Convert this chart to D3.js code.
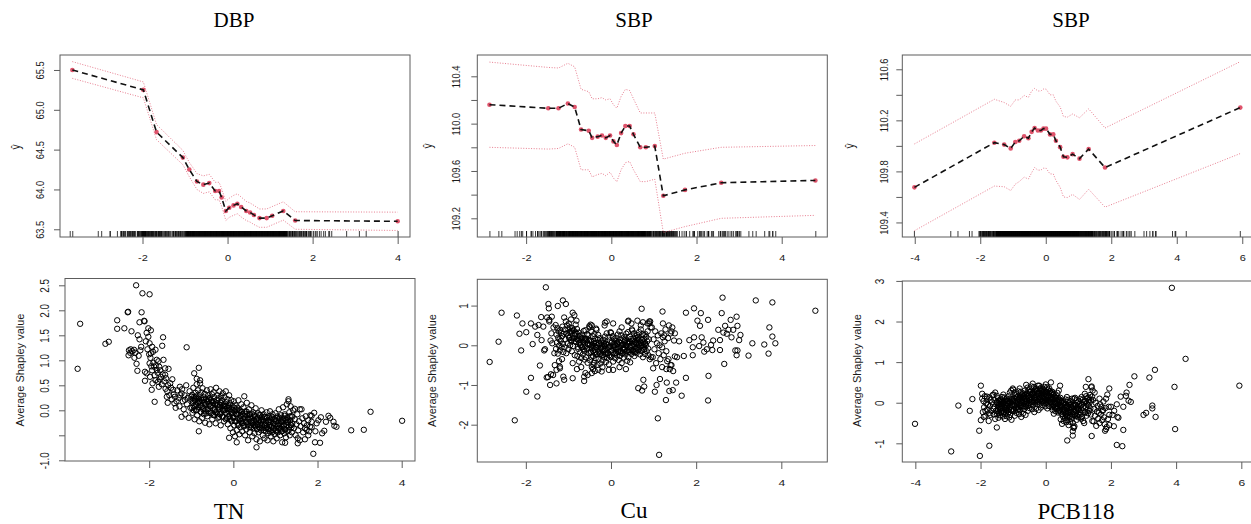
<!DOCTYPE html>
<html><head><meta charset="utf-8">
<script src="https://cdn.jsdelivr.net/npm/d3@7"></script>
<style>
html,body{margin:0;padding:0;background:#fff;}
svg{display:block;}
</style></head>
<body>
<svg id="chart" width="1251" height="524"></svg>
<script>
// ---- Partial dependence curves (top row) ----
const dbpTnX  = [-3.65,-1.98,-1.67,-1.05,-0.90,-0.72,-0.57,-0.43,-0.29,-0.20,-0.14,-0.04,0.04,0.14,0.23,0.32,0.44,0.53,0.62,0.75,0.92,1.05,1.31,1.59,4.00];
const dbpTnY  = [65.50,65.25,64.72,64.40,64.25,64.10,64.06,64.08,63.98,63.98,63.90,63.73,63.77,63.80,63.82,63.78,63.73,63.71,63.68,63.64,63.64,63.67,63.73,63.61,63.60];
const dbpTnSE = [0.105,0.10,0.095,0.09,0.09,0.10,0.11,0.11,0.11,0.11,0.11,0.12,0.12,0.125,0.125,0.125,0.12,0.12,0.12,0.115,0.115,0.115,0.115,0.11,0.115];

const sbpCuX  = [-2.86,-1.48,-1.24,-1.02,-0.86,-0.71,-0.53,-0.45,-0.32,-0.22,-0.13,-0.03,0.05,0.13,0.23,0.33,0.43,0.52,0.68,0.81,1.02,1.22,1.73,2.58,4.79];
const sbpCuY  = [110.16,110.13,110.13,110.17,110.14,109.95,109.94,109.88,109.89,109.90,109.88,109.90,109.85,109.82,109.92,109.98,109.98,109.91,109.80,109.80,109.81,109.39,109.44,109.50,109.52];
const sbpCuSE = [0.36,0.345,0.34,0.34,0.34,0.34,0.33,0.33,0.32,0.32,0.32,0.31,0.31,0.31,0.31,0.31,0.30,0.30,0.29,0.29,0.28,0.31,0.31,0.30,0.295];

const sbpPcbX  = [-4.01,-1.57,-1.27,-1.07,-0.93,-0.81,-0.66,-0.53,-0.43,-0.34,-0.24,-0.15,-0.07,0.01,0.13,0.23,0.31,0.44,0.54,0.66,0.82,1.03,1.31,1.81,5.94];
const sbpPcbY  = [109.675,110.025,110.01,109.98,110.03,110.04,110.075,110.06,110.11,110.14,110.12,110.12,110.135,110.135,110.09,110.09,110.04,109.99,109.915,109.91,109.935,109.90,109.975,109.83,110.30];
const sbpPcbSE = [0.34,0.34,0.33,0.33,0.33,0.32,0.32,0.32,0.32,0.31,0.31,0.31,0.31,0.31,0.31,0.31,0.31,0.315,0.315,0.315,0.315,0.32,0.315,0.31,0.36];

// ---- Average Shapley value per observation (bottom row), [exposure, shapley] ----
const tnShapley = [
[-3.70,0.83],[-3.64,1.73],[-3.04,1.33],[-2.96,1.37],[-2.76,1.80],[-2.76,1.63],[-2.59,1.64],[-2.51,1.96],[-2.50,1.97],[-2.42,1.58],
[-2.31,2.50],[-2.16,2.34],[-1.99,2.32],[-2.18,1.96],[-2.12,1.79],[-2.11,1.78],[-2.23,1.76],[-2.27,1.50],[-2.23,1.42],[-2.19,1.27],
[-2.48,1.20],[-2.44,1.22],[-2.40,1.18],[-2.36,1.21],[-2.33,1.15],[-2.49,1.10],[-2.30,0.93],[-2.28,0.79],[-2.25,1.09],[-2.21,1.20],
[-2.10,0.77],[-2.10,0.59],[-2.06,1.55],[-2.02,1.64],[-2.02,1.47],[-1.99,1.34],[-1.96,1.14],[-1.99,0.94],[-2.06,0.74],[-1.98,0.67],
[-1.92,0.54],[-1.94,0.41],[-1.88,0.87],[-1.85,1.21],[-1.82,1.01],[-1.82,0.81],[-1.79,0.57],[-1.77,0.47],[-1.76,0.87],[-1.72,0.67],
[-1.87,0.17],[-1.66,1.01],[-1.69,1.29],[-1.67,1.46],[-1.62,0.84],[-1.62,0.71],[-1.61,0.43],[-1.58,0.27],[-1.56,0.15],[-1.54,0.83],
[-1.50,0.54],[-1.43,0.41],[-1.39,0.27],[-1.40,0.14],[-1.37,0.05],[-1.27,0.47],[-1.23,0.34],[-1.11,1.26],[-1.15,0.21],[-1.23,-0.13],
[-0.82,-0.42],[-0.82,0.85],[-0.93,0.74],[-0.87,0.63],[-0.79,0.54],[-2.00,1.12],[-1.97,1.05],[-1.95,0.88],[-1.93,0.80],[-1.91,1.17],
[-1.90,0.95],[-1.87,0.70],[-1.85,0.60],[-1.84,0.90],[-1.80,0.75],[-1.78,0.98],[-1.75,0.62],[-1.74,0.80],[-1.70,0.52],[-1.68,0.72],
[-1.64,0.58],[-1.60,0.64],[-1.57,0.38],[-1.55,0.50],[-1.52,0.30],[-1.48,0.45],[-1.46,0.22],[-1.45,0.62],[-1.42,0.32],[-1.35,0.18],
[-1.33,0.40],[-1.30,0.25],[-1.28,0.08],[-1.26,0.30],[-2.08,1.38],[-2.04,1.22],[-1.96,1.60],[-1.93,1.27],[-2.35,1.05],[-2.45,1.15],
[1.86,-0.11],[1.86,-0.23],[1.82,-0.33],[1.74,-0.39],[1.90,-0.87],[1.94,-0.64],[2.06,-0.65],[2.11,-0.46],[2.16,-0.41],[1.98,-0.26],
[2.08,-0.14],[2.26,-0.11],[2.20,-0.23],[2.38,-0.23],[2.40,-0.31],[2.45,-0.33],[2.80,-0.40],[3.10,-0.39],[3.26,-0.03],[4.01,-0.21],
[1.31,0.22],[1.46,0.03],[1.58,0.02],[1.53,-0.56],[1.53,-0.66],[1.23,-0.65],[0.55,-0.74],[0.08,-0.64],[-0.10,-0.55],[1.78,-0.50],
[1.70,-0.58],[2.02,-0.20],[1.95,-0.42],[2.30,-0.15],[1.92,-0.05],
[-1.22,0.42],[-1.20,0.18],[-1.18,0.02],[-1.16,0.30],[-1.14,-0.08],[-1.12,0.50],[-1.10,0.12],[-1.08,0.25],[-1.06,-0.15],[-1.04,0.38],
[-1.02,0.05],[-1.00,0.22],[-0.98,0.31],[-0.97,-0.05],[-0.96,0.15],[-0.95,0.45],[-0.94,0.08],[-0.93,0.27],[-0.92,-0.18],[-0.91,0.20],
[-0.90,0.35],[-0.89,0.00],[-0.88,0.12],[-0.87,0.52],[-0.86,-0.10],[-0.85,0.24],[-0.84,0.40],[-0.83,0.06],[-0.82,0.18],[-0.81,-0.22],
[-0.80,0.30],[-0.79,0.60],[-0.78,0.10],[-0.77,-0.03],[-0.76,0.36],[-0.75,0.20],[-0.74,-0.15],[-0.73,0.44],[-0.72,0.05],[-0.71,0.26],
[-0.70,-0.08],[-0.69,0.15],[-0.68,0.33],[-0.67,-0.25],[-0.66,0.10],[-0.65,0.22],[-0.64,0.02],[-0.63,0.40],[-0.62,-0.12],[-0.61,0.18],
[-0.60,0.30],[-0.59,-0.02],[-0.58,0.12],[-0.57,-0.28],[-0.56,0.25],[-0.55,0.08],[-0.54,0.42],[-0.53,-0.06],[-0.52,0.20],[-0.51,0.32],
[-0.50,-0.18],[-0.49,0.05],[-0.48,0.15],[-0.47,0.36],[-0.46,-0.10],[-0.45,0.26],[-0.44,0.00],[-0.43,0.12],[-0.42,-0.26],[-0.41,0.45],
[-0.40,0.20],[-0.39,-0.04],[-0.38,0.30],[-0.37,0.10],[-0.36,-0.15],[-0.35,0.24],[-0.34,0.02],[-0.33,0.38],[-0.32,-0.08],[-0.31,0.16],
[-0.30,-0.30],[-0.29,0.28],[-0.28,0.06],[-0.27,0.20],[-0.26,-0.12],[-0.25,0.34],[-0.24,0.00],[-0.23,0.12],[-0.22,-0.22],[-0.21,0.26],
[-0.20,0.08],[-0.19,-0.05],[-0.18,0.38],[-0.17,0.16],[-0.16,-0.16],[-0.15,0.04],[-0.14,0.22],[-0.13,-0.28],[-0.12,0.10],[-0.11,-0.02],
[-0.10,0.30],[-0.09,-0.12],[-0.08,0.14],[-0.07,-0.36],[-0.06,0.02],[-0.05,0.20],[-0.04,-0.20],[-0.03,-0.06],[-0.02,0.08],[-0.01,-0.44],
[0.00,-0.14],[0.01,0.18],[0.02,-0.30],[0.03,-0.02],[0.04,-0.52],[0.05,0.10],[0.06,-0.22],[0.07,-0.08],[0.08,-0.40],[0.09,0.05],
[0.10,-0.16],[0.11,-0.30],[0.12,0.20],[0.13,-0.05],[0.14,-0.48],[0.15,-0.20],[0.16,0.00],[0.17,-0.34],[0.18,-0.12],[0.19,0.12],
[0.20,-0.26],[0.21,-0.42],[0.22,-0.08],[0.23,-0.18],[0.24,0.06],[0.25,-0.32],[0.26,0.28],[0.27,-0.14],[0.28,-0.50],[0.29,-0.02],
[0.30,-0.24],[0.31,-0.38],[0.32,0.15],[0.33,-0.10],[0.34,-0.28],[0.35,-0.60],[0.36,-0.18],[0.37,0.02],[0.38,-0.34],[0.39,-0.44],
[0.40,-0.08],[0.41,-0.22],[0.42,-0.30],[0.43,0.10],[0.44,-0.16],[0.45,-0.52],[0.46,-0.26],[0.47,-0.04],[0.48,-0.36],[0.49,-0.20],
[0.50,-0.46],[0.51,-0.12],[0.52,-0.30],[0.53,0.04],[0.54,-0.24],[0.55,-0.58],[0.56,-0.38],[0.57,-0.16],[0.58,-0.28],[0.59,-0.06],
[0.60,-0.44],[0.61,-0.20],[0.62,-0.34],[0.63,-0.62],[0.64,-0.10],[0.65,-0.26],[0.66,-0.40],[0.67,0.00],[0.68,-0.30],[0.69,-0.18],
[0.70,-0.50],[0.71,-0.36],[0.72,-0.08],[0.73,-0.22],[0.74,-0.56],[0.75,-0.30],[0.76,-0.14],[0.77,-0.42],[0.78,-0.26],[0.79,-0.04],
[0.80,-0.34],[0.81,-0.60],[0.82,-0.20],[0.83,-0.46],[0.84,-0.12],[0.85,-0.30],[0.86,-0.38],[0.87,-0.02],[0.88,-0.24],[0.89,-0.52],
[0.90,-0.16],[0.91,-0.32],[0.92,-0.44],[0.93,-0.08],[0.94,-0.26],[0.95,-0.62],[0.96,-0.36],[0.97,-0.18],[0.98,-0.48],[0.99,-0.28],
[1.00,-0.06],[1.01,-0.40],[1.02,-0.22],[1.03,-0.56],[1.04,-0.32],[1.05,-0.12],[1.06,-0.44],[1.07,-0.26],[1.08,0.02],[1.09,-0.36],
[1.10,-0.18],[1.11,-0.50],[1.12,-0.30],[1.13,-0.10],[1.14,-0.42],[1.15,-0.22],[1.16,-0.64],[1.17,-0.34],[1.18,0.06],[1.19,-0.16],
[1.20,-0.28],[1.21,-0.46],[1.22,-0.08],[1.23,-0.38],[1.24,-0.20],[1.25,-0.54],[1.26,-0.30],[1.27,0.12],[1.28,-0.14],[1.29,-0.42],
[1.30,-0.24],[1.31,0.18],[1.32,-0.34],[1.33,-0.04],[1.34,-0.50],[1.35,-0.20],[1.36,0.08],[1.37,-0.30],[1.38,-0.12],[1.39,-0.44],
[1.40,-0.26],[1.42,0.00],[1.44,-0.36],[1.46,-0.18],[1.48,-0.50],[1.50,-0.28],[1.52,-0.08],[1.54,-0.40],[1.56,-0.22],[1.58,-0.60],
[1.60,-0.32],[1.62,0.02],[1.64,-0.16],[1.66,-0.44],[1.68,-0.26],[1.70,-0.36],[1.72,-0.12],[1.75,-0.30],[1.78,-0.20],[1.80,-0.42],
[1.83,-0.10],[1.86,-0.34]
];
// densest band of TN observations
const tnShapleyCore = [
[-1.00,0.27],[-0.98,0.05],[-0.96,0.19],[-0.94,0.00],[-0.92,0.23],[-0.90,0.08],[-0.88,0.28],[-0.86,0.01],[-0.84,0.15],[-0.82,0.23],
[-0.80,0.17],[-0.78,-0.03],[-0.76,0.24],[-0.74,0.08],[-0.72,0.02],[-0.70,0.21],[-0.68,-0.01],[-0.66,0.13],[-0.64,-0.06],[-0.62,0.17],
[-0.60,0.02],[-0.58,0.22],[-0.56,-0.05],[-0.54,0.09],[-0.52,0.17],[-0.50,0.11],[-0.48,-0.09],[-0.46,0.18],[-0.44,0.02],[-0.42,-0.04],
[-0.40,0.14],[-0.38,-0.08],[-0.36,0.06],[-0.34,-0.13],[-0.32,0.10],[-0.30,-0.06],[-0.28,0.14],[-0.26,-0.13],[-0.24,0.01],[-0.22,0.09],
[-0.20,0.02],[-0.18,-0.18],[-0.16,0.09],[-0.14,-0.07],[-0.12,-0.13],[-0.10,0.05],[-0.08,-0.17],[-0.06,-0.03],[-0.04,-0.22],[-0.02,0.01],
[0.00,-0.15],[0.02,0.05],[0.04,-0.22],[0.06,-0.08],[0.08,0.00],[0.10,-0.07],[0.12,-0.27],[0.14,0.00],[0.16,-0.16],[0.18,-0.22],
[0.20,-0.03],[0.22,-0.25],[0.24,-0.11],[0.26,-0.30],[0.28,-0.07],[0.30,-0.23],[0.32,-0.03],[0.34,-0.30],[0.36,-0.16],[0.38,-0.08],
[0.40,-0.14],[0.42,-0.34],[0.44,-0.07],[0.46,-0.23],[0.48,-0.29],[0.50,-0.10],[0.52,-0.32],[0.54,-0.18],[0.56,-0.37],[0.58,-0.14],
[0.60,-0.29],[0.62,-0.09],[0.64,-0.36],[0.66,-0.22],[0.68,-0.14],[0.70,-0.20],[0.72,-0.40],[0.74,-0.13],[0.76,-0.29],[0.78,-0.35],
[0.80,-0.15],[0.82,-0.37],[0.84,-0.23],[0.86,-0.42],[0.88,-0.19],[0.90,-0.33],[0.92,-0.13],[0.94,-0.40],[0.96,-0.26],[0.98,-0.18],
[1.00,-0.22],[1.02,-0.42],[1.04,-0.15],[1.06,-0.31],[1.08,-0.37],[1.10,-0.15],[1.12,-0.37],[1.14,-0.23],[1.16,-0.42],[1.18,-0.19],
[1.20,-0.31],[1.22,-0.11],[1.24,-0.38],[1.26,-0.24],[1.28,-0.16],[1.30,-0.19],[1.32,-0.39],[1.34,-0.12],[1.36,-0.28],[1.38,-0.34],
[1.40,-0.13]
];

const cuShapley = [
[-2.85,-0.42],[-2.64,0.09],[-2.57,0.82],[-2.26,-1.89],[-2.21,0.75],[-2.15,0.29],[-2.11,-0.13],[-2.08,0.55],[-1.99,-1.17],[-1.99,0.33],
[-1.88,-0.82],[-1.88,0.55],[-1.84,0.03],[-1.78,0.47],[-1.73,-1.29],[-1.73,0.26],[-1.70,0.51],[-1.67,-0.51],[-1.64,0.71],[-1.63,0.13],
[-1.59,0.47],[-1.57,-0.13],[-1.53,1.46],[-1.51,-0.81],[-1.47,1.04],[-1.46,0.93],[-1.43,-1.00],[-1.45,0.64],[-1.41,-0.73],[-1.39,0.72],
[-1.28,-0.96],[-1.25,0.99],[-1.20,-0.54],[-1.13,1.13],[-1.06,1.04],[-1.12,-0.79],[-1.10,-0.87],[-0.90,-0.83],[-0.63,-0.79],[-0.63,-0.90],
[-0.41,-0.50],[-0.22,-0.66],[0.05,-0.62],[-0.10,0.60],[-0.14,0.57],[0.41,0.62],[0.72,0.92],[0.64,-1.08],[0.73,-1.14],[0.76,-0.87],
[0.78,-1.04],[0.99,-0.58],[1.03,-1.17],[1.07,-1.00],[1.10,-1.84],[1.13,-2.76],[1.21,0.85],[1.29,-1.38],[1.31,-0.94],[1.37,-1.15],
[1.45,-1.13],[1.53,-0.94],[1.66,-1.27],[1.76,-0.82],[1.76,0.82],[1.71,-0.27],[1.84,0.13],[1.95,0.93],[1.95,0.20],[1.92,-0.25],
[1.92,-0.05],[2.03,0.62],[2.07,-0.02],[2.09,0.49],[2.11,0.81],[2.13,0.20],[2.17,0.07],[2.19,-0.16],[2.25,-0.10],[2.28,0.64],
[2.29,-0.77],[2.28,-1.39],[2.35,0.01],[2.38,-0.12],[2.40,0.12],[2.52,0.39],[2.56,0.13],[2.56,-0.12],[2.60,0.81],[2.62,1.20],
[2.64,0.32],[2.66,-0.47],[2.68,0.49],[2.72,0.29],[2.76,0.39],[2.81,0.64],[2.83,0.20],[2.87,0.39],[2.92,-0.13],[2.95,-0.25],
[2.97,-0.13],[2.95,0.72],[2.97,0.49],[3.01,0.13],[3.04,0.26],[3.23,-0.26],[3.32,0.05],[3.40,1.13],[3.60,0.02],[3.70,-0.21],
[3.72,0.45],[3.79,1.08],[3.79,0.22],[3.86,0.05],[4.80,0.87],
[1.60,0.10],[1.55,-0.30],[1.50,0.30],[1.42,0.35],[1.40,-0.50],[1.30,-0.60],[1.20,-0.55],[1.15,-0.85],[1.25,0.25],[1.35,-0.35],
[0.62,0.62],[0.75,0.58],[0.86,0.55],[0.90,0.60],[0.48,0.55],[0.70,0.50],[1.22,0.55],
[-1.45,0.60],[-1.40,0.30],[-1.38,0.05],[-1.35,0.45],[-1.33,-0.20],[-1.42,0.12],[-1.50,0.70],[-1.55,-0.10],[-1.48,-0.80],[-1.36,-0.75],
[-1.32,-0.50],[-1.28,-0.62],[-1.20,-0.58],[-1.22,-0.40],[-1.15,-0.35],[-0.90,-0.45],[-0.80,-0.60],[-0.70,-0.55],[-0.60,-0.70],[-0.55,-0.75],
[-0.45,-0.70],[-0.30,-0.62],[-0.20,-0.55],[-0.05,-0.62],[0.20,-0.55],[0.35,-0.60],[0.40,0.60],[0.05,0.55],[-0.15,0.50],[0.25,0.45],
[-1.30,0.51],[-1.29,-0.09],[-1.28,0.27],[-1.27,0.07],[-1.26,0.43],[-1.25,-0.21],[-1.24,0.19],[-1.23,0.35],[-1.22,-0.01],[-1.21,0.15],
[-1.20,-0.13],[-1.19,0.39],[-1.18,0.11],[-1.17,0.31],[-1.16,-0.05],[-1.15,0.23],[-1.14,0.47],[-1.13,0.03],[-1.12,-0.17],[-1.11,0.29],
[-1.10,0.70],[-1.09,-0.05],[-1.08,0.40],[-1.07,0.15],[-1.06,0.60],[-1.05,-0.20],[-1.04,0.30],[-1.03,0.50],[-1.02,0.05],[-1.01,0.25],
[-1.00,-0.10],[-0.99,0.55],[-0.98,0.20],[-0.97,0.45],[-0.96,0.00],[-0.95,0.35],[-0.94,0.65],[-0.93,0.10],[-0.92,-0.15],[-0.91,0.43],
[-0.90,0.82],[-0.89,-0.02],[-0.88,0.38],[-0.87,0.18],[-0.86,0.76],[-0.85,-0.25],[-0.84,0.28],[-0.83,0.52],[-0.82,0.08],[-0.81,0.62],
[-0.80,0.41],[-0.79,-0.27],[-0.78,0.14],[-0.77,-0.09],[-0.76,0.32],[-0.75,-0.41],[-0.74,0.05],[-0.73,0.23],[-0.72,-0.18],[-0.71,0.00],
[-0.70,-0.32],[-0.69,0.27],[-0.68,-0.05],[-0.67,0.18],[-0.66,-0.23],[-0.65,0.09],[-0.64,0.36],[-0.63,-0.14],[-0.62,-0.36],[-0.61,0.16],
[-0.60,0.38],[-0.59,-0.30],[-0.58,0.12],[-0.57,-0.06],[-0.56,0.28],[-0.55,-0.44],[-0.54,0.02],[-0.53,0.25],[-0.52,-0.20],[-0.51,0.48],
[-0.50,0.45],[-0.49,-0.38],[-0.48,0.12],[-0.47,-0.16],[-0.46,0.34],[-0.45,-0.55],[-0.44,0.01],[-0.43,0.23],[-0.42,-0.27],[-0.41,-0.05],
[-0.40,-0.44],[-0.39,0.28],[-0.38,-0.11],[-0.37,0.17],[-0.36,-0.33],[-0.35,0.06],[-0.34,0.39],[-0.33,-0.22],[-0.32,-0.49],[-0.31,0.14],
[-0.48,0.52],[-0.45,0.50],[-0.42,-0.60],[-0.38,-0.65],[-0.35,0.42],[-0.46,-0.30],[-0.40,0.10],[-0.36,-0.05],
[-0.30,0.26],[-0.29,-0.34],[-0.28,0.02],[-0.27,-0.18],[-0.26,0.18],[-0.25,-0.46],[-0.24,-0.06],[-0.23,0.10],[-0.22,-0.26],[-0.21,-0.10],
[-0.20,-0.38],[-0.19,0.14],[-0.18,-0.14],[-0.17,0.06],[-0.16,-0.30],[-0.15,-0.02],[-0.14,0.22],[-0.13,-0.22],[-0.12,-0.42],[-0.11,0.04],
[-0.10,0.30],[-0.09,-0.32],[-0.08,0.00],[-0.07,-0.20],[-0.06,0.20],[-0.05,-0.48],[-0.04,-0.04],[-0.03,0.12],[-0.02,-0.28],[-0.01,0.33],
[0.00,0.31],[0.01,-0.29],[0.02,0.07],[0.03,-0.13],[0.04,0.23],[0.05,-0.41],[0.06,-0.01],[0.07,0.15],[0.08,-0.21],[0.09,-0.05],
[0.10,-0.33],[0.11,0.19],[0.12,-0.09],[0.13,0.11],[0.14,-0.25],[0.15,0.03],[0.16,0.27],[0.17,-0.17],[0.18,-0.37],[0.19,0.09],
[0.20,0.35],[0.21,-0.27],[0.22,0.05],[0.23,-0.15],[0.24,0.25],[0.25,-0.45],[0.26,0.01],[0.27,0.17],[0.28,-0.19],[0.29,-0.07],
[0.30,-0.31],[0.31,0.21],[0.32,-0.11],[0.33,0.13],[0.34,-0.23],[0.35,0.00],[0.36,0.29],[0.37,-0.15],[0.38,-0.39],[0.39,0.08],
[0.40,0.33],[0.41,-0.30],[0.42,0.08],[0.43,-0.12],[0.44,0.22],[0.45,-0.43],[0.46,-0.02],[0.47,0.16],[0.48,-0.22],[0.49,0.40],
[0.50,0.37],[0.51,-0.16],[0.52,0.16],[0.53,-0.02],[0.54,0.30],[0.55,-0.27],[0.56,0.09],[0.57,0.23],[0.58,-0.09],[0.59,0.05],
[0.60,-0.20],[0.61,0.26],[0.62,0.02],[0.63,0.19],[0.64,-0.13],[0.65,0.12],[0.66,0.33],[0.67,-0.06],[0.68,-0.23],[0.69,0.17],
[0.70,0.40],[0.71,-0.14],[0.72,0.14],[0.73,0.00],[0.74,0.28],[0.75,-0.30],[0.76,0.07],[0.77,0.25],[0.78,-0.11],[0.79,0.03],
[0.80,-0.22],[0.81,0.28],[0.82,0.00],[0.83,0.21],[0.84,-0.15],[0.85,0.10],[0.86,0.35],[0.87,-0.08],[0.88,-0.25],[0.89,0.15],
[0.90,0.55],[0.91,-0.35],[0.92,0.60],[0.93,0.45],[0.94,-0.30],
[0.96,0.45],[0.98,-0.30],[1.00,0.15],[1.02,-0.10],[1.04,0.35],[1.06,-0.45],[1.08,0.05],[1.10,0.25],[1.12,-0.20],[1.14,0.00],
[1.16,-0.35],[1.18,0.30],[1.20,-0.05],[1.22,0.20],[1.24,-0.25],[1.26,0.10],[1.28,0.40],[1.30,-0.15],[1.32,-0.40],[1.34,0.18],
[1.36,0.50],[1.38,-0.60],[1.40,0.30],[1.42,-0.50],[1.44,0.45],[1.46,-0.65],[1.48,0.12],[1.50,-0.28]
];
// densest band of Cu observations
const cuShapleyCore = [
[-1.00,0.40],[-0.98,0.18],[-0.96,0.32],[-0.94,0.13],[-0.92,0.36],[-0.90,0.17],[-0.88,0.37],[-0.86,0.10],[-0.84,0.24],[-0.82,0.32],
[-0.80,0.16],[-0.78,-0.04],[-0.76,0.23],[-0.74,0.07],[-0.72,0.01],[-0.70,0.17],[-0.68,-0.05],[-0.66,0.09],[-0.64,-0.10],[-0.62,0.13],
[-0.60,-0.03],[-0.58,0.17],[-0.56,-0.10],[-0.54,0.04],[-0.52,0.12],[-0.50,0.01],[-0.48,-0.19],[-0.46,0.08],[-0.44,-0.08],[-0.42,-0.14],
[-0.40,0.04],[-0.38,-0.18],[-0.36,-0.04],[-0.34,-0.23],[-0.32,0.00],[-0.30,-0.15],[-0.28,0.05],[-0.26,-0.22],[-0.24,-0.08],[-0.22,0.00],
[-0.20,-0.04],[-0.18,-0.24],[-0.16,0.03],[-0.14,-0.13],[-0.12,-0.19],[-0.10,0.02],[-0.08,-0.20],[-0.06,-0.06],[-0.04,-0.25],[-0.02,-0.02],
[0.00,-0.13],[0.02,0.07],[0.04,-0.20],[0.06,-0.06],[0.08,0.02],[0.10,0.00],[0.12,-0.20],[0.14,0.07],[0.16,-0.09],[0.18,-0.15],
[0.20,0.07],[0.22,-0.15],[0.24,-0.01],[0.26,-0.20],[0.28,0.03],[0.30,-0.09],[0.32,0.11],[0.34,-0.16],[0.36,-0.02],[0.38,0.06],
[0.40,0.03],[0.42,-0.17],[0.44,0.10],[0.46,-0.06],[0.48,-0.12],[0.50,0.10],[0.52,-0.12],[0.54,0.02],[0.56,-0.17],[0.58,0.06],
[0.60,-0.05],[0.62,0.15],[0.64,-0.12],[0.66,0.02],[0.68,0.10],[0.70,0.06],[0.72,-0.14],[0.74,0.13],[0.76,-0.03],[0.78,-0.09],
[0.80,0.05]
];

const pcbShapley = [
[-4.01,-0.52],[-2.90,-1.20],[-2.68,-0.07],[-2.33,-0.20],[-2.25,0.09],[-2.04,-0.69],[-2.02,-1.31],[-1.99,0.42],[-1.99,-0.43],[-1.73,-1.06],
[-1.50,-0.61],[0.66,-0.93],[0.83,-0.81],[0.83,-0.70],[1.31,0.58],[1.23,0.39],[1.41,-0.82],[1.82,-0.69],[1.95,0.35],[2.09,-0.58],
[2.18,-1.04],[2.18,-0.04],[2.23,-0.37],[2.35,-1.07],[2.38,-0.67],[2.30,0.15],[2.38,-0.10],[2.46,0.17],[2.48,0.25],[2.54,0.05],
[2.57,0.44],[2.61,0.02],[2.72,0.65],[3.00,-0.30],[3.08,-0.25],[3.18,0.62],[3.27,-0.07],[3.27,-0.14],[3.35,0.81],[3.37,-0.35],
[3.87,2.83],[3.95,0.39],[3.97,-0.65],[4.29,1.08],[5.94,0.42],
[-1.90,-0.35],[-1.85,-0.20],[-1.80,0.15],[-1.75,-0.45],[-1.70,-0.30],[-1.60,0.20],[-1.55,-0.40],[-1.95,0.10],[-1.60,-0.15],
[1.50,0.25],[1.65,0.10],[2.00,-0.10],[2.05,-0.30],[2.10,-0.20],[2.20,-0.35],[1.85,0.10],[1.75,-0.20],[1.95,-0.55],
[-1.95,0.22],[-1.93,-0.23],[-1.91,0.04],[-1.89,-0.11],[-1.87,0.16],[-1.85,-0.32],[-1.83,-0.02],[-1.81,0.10],[-1.79,-0.17],[-1.77,-0.05],
[-1.75,-0.26],[-1.73,0.13],[-1.71,-0.08],[-1.69,0.07],[-1.67,-0.20],[-1.65,0.01],[-1.63,0.19],[-1.61,-0.14],[-1.59,-0.29],[-1.57,0.06],
[-1.55,0.25],[-1.53,-0.20],[-1.51,0.00],
[-1.50,0.17],[-1.49,-0.28],[-1.48,-0.01],[-1.47,-0.16],[-1.46,0.11],[-1.45,-0.37],[-1.44,-0.07],[-1.43,0.05],[-1.42,-0.22],[-1.41,-0.10],
[-1.40,-0.31],[-1.39,0.08],[-1.38,-0.13],[-1.37,0.02],[-1.36,-0.25],[-1.35,-0.04],[-1.34,0.14],[-1.33,-0.19],[-1.32,-0.34],[-1.31,0.01],
[-1.30,0.20],[-1.29,-0.26],[-1.28,0.02],[-1.27,-0.14],[-1.26,0.13],[-1.25,-0.40],[-1.24,-0.05],[-1.23,0.07],[-1.22,-0.24],[-1.21,-0.08],
[-1.20,-0.33],[-1.19,0.10],[-1.18,-0.12],[-1.17,0.04],[-1.16,-0.27],[-1.15,-0.02],[-1.14,0.16],[-1.13,-0.17],[-1.12,-0.36],[-1.11,0.03],
[-1.10,0.25],[-1.09,-0.30],[-1.08,0.00],[-1.07,-0.18],[-1.06,0.30],[-1.05,-0.42],[-1.04,-0.06],[-1.03,0.09],[-1.02,-0.20],[-1.01,0.35],
[-1.00,0.32],[-0.99,-0.21],[-0.98,0.11],[-0.97,-0.07],[-0.96,0.25],[-0.95,-0.32],[-0.94,0.04],[-0.93,0.18],[-0.92,-0.14],[-0.91,0.00],
[-0.90,-0.25],[-0.89,0.21],[-0.88,-0.04],[-0.87,0.14],[-0.86,-0.18],[-0.85,0.07],[-0.84,0.28],[-0.83,-0.11],[-0.82,-0.28],[-0.81,0.12],
[-0.80,0.35],[-0.79,-0.19],[-0.78,0.13],[-0.77,-0.05],[-0.76,0.27],[-0.75,-0.35],[-0.74,0.02],[-0.73,0.20],[-0.72,-0.12],[-0.71,0.03],
[-0.70,-0.27],[-0.69,0.23],[-0.68,-0.02],[-0.67,0.16],[-0.66,-0.16],[-0.65,0.09],[-0.64,0.30],[-0.63,-0.09],[-0.62,-0.30],[-0.61,0.10],
[-0.60,0.44],[-0.59,-0.09],[-0.58,0.23],[-0.57,0.05],[-0.56,0.37],[-0.55,-0.20],[-0.54,0.16],[-0.53,0.30],[-0.52,-0.02],[-0.51,0.12],
[-0.50,-0.13],[-0.49,0.33],[-0.48,0.08],[-0.47,0.26],[-0.46,-0.06],[-0.45,0.19],[-0.44,0.40],[-0.43,0.02],[-0.42,-0.16],[-0.41,0.24],
[-0.40,0.47],[-0.39,-0.07],[-0.38,0.25],[-0.37,0.07],[-0.36,0.39],[-0.35,-0.23],[-0.34,0.14],[-0.33,0.32],[-0.32,0.00],[-0.31,0.10],
[-0.30,-0.15],[-0.29,0.35],[-0.28,0.06],[-0.27,0.28],[-0.26,-0.04],[-0.25,0.21],[-0.24,0.42],[-0.23,0.04],[-0.22,-0.18],[-0.21,0.22],
[-0.20,0.42],[-0.19,-0.03],[-0.18,0.24],[-0.17,0.09],[-0.16,0.36],[-0.15,-0.12],[-0.14,0.18],[-0.13,0.30],[-0.12,0.03],[-0.11,0.15],
[-0.10,-0.06],[-0.09,0.33],[-0.08,0.12],[-0.07,0.27],[-0.06,0.00],[-0.05,0.21],[-0.04,0.39],[-0.03,0.06],[-0.02,-0.09],[-0.01,0.26],
[0.00,0.45],[0.01,-0.01],[0.02,0.26],[0.03,0.11],[0.04,0.38],[0.05,-0.14],[0.06,0.16],[0.07,0.32],[0.08,0.05],[0.09,0.13],
[0.10,-0.08],[0.11,0.35],[0.12,0.10],[0.13,0.29],[0.14,0.02],[0.15,0.23],[0.16,0.50],[0.17,0.08],[0.18,-0.11],[0.19,0.24],
[0.20,0.27],[0.21,-0.18],[0.22,0.09],[0.23,-0.06],[0.24,0.21],[0.25,-0.27],[0.26,0.03],[0.27,0.15],[0.28,-0.12],[0.29,0.00],
[0.30,-0.21],[0.31,0.18],[0.32,-0.03],[0.33,0.12],[0.34,-0.15],[0.35,0.06],[0.36,0.24],[0.37,-0.09],[0.38,-0.24],[0.39,0.11],
[0.40,0.30],[0.41,-0.20],[0.42,0.05],[0.43,-0.10],[0.44,0.42],
[0.45,0.12],[0.46,-0.41],[0.47,-0.10],[0.48,-0.27],[0.49,0.05],[0.50,-0.52],[0.51,-0.17],[0.52,-0.03],[0.53,-0.34],[0.54,-0.20],
[0.55,-0.45],[0.56,0.01],[0.57,-0.24],[0.58,-0.06],[0.59,-0.38],[0.60,-0.13],[0.61,0.08],[0.62,-0.31],[0.63,-0.48],[0.64,-0.08],
[0.65,0.14],[0.66,-0.43],[0.67,-0.08],[0.68,-0.25],[0.69,0.07],[0.70,-0.55],[0.71,-0.15],[0.72,-0.01],[0.73,-0.36],[0.74,-0.18],
[0.75,-0.47],[0.76,0.03],[0.77,-0.22],[0.78,-0.04],[0.79,-0.40],[0.80,-0.11],[0.81,0.10],[0.82,-0.29],[0.83,-0.50],[0.84,-0.06],
[0.85,-0.60],[0.86,-0.62],[0.87,0.10],[0.88,-0.58],[0.89,-0.30],
[0.90,0.12],[0.91,-0.33],[0.92,-0.06],[0.93,-0.21],[0.94,0.06],[0.95,-0.42],[0.96,-0.12],[0.97,0.00],[0.98,-0.27],[0.99,-0.15],
[1.00,-0.36],[1.01,0.03],[1.02,-0.18],[1.03,-0.03],[1.04,-0.30],[1.05,-0.09],[1.06,0.09],[1.07,-0.24],[1.08,-0.39],[1.09,-0.05],
[1.10,0.14],[1.11,-0.35],[1.12,-0.04],[1.13,-0.19],[1.14,0.08],[1.15,-0.45],[1.16,-0.10],[1.17,0.02],[1.18,-0.50],[1.19,-0.25],
[1.20,0.22],[1.21,-0.23],[1.22,0.04],[1.23,-0.11],[1.24,0.16],[1.25,-0.32],[1.26,-0.02],[1.27,0.10],[1.28,-0.17],[1.29,-0.05],
[1.30,-0.26],[1.31,0.13],[1.32,-0.08],[1.33,0.07],[1.34,-0.20],[1.35,0.01],[1.36,0.19],[1.37,-0.14],[1.38,-0.29],[1.39,0.06],
[1.40,0.38],[1.41,0.40],[1.42,0.15],[1.43,-0.45],[1.44,0.30],
[1.45,0.07],[1.47,-0.46],[1.49,-0.15],[1.51,-0.32],[1.53,0.00],[1.55,-0.57],[1.57,-0.22],[1.59,-0.08],[1.61,-0.39],[1.63,-0.25],
[1.65,-0.50],[1.67,-0.04],[1.69,-0.29],[1.71,-0.11],[1.73,-0.43],[1.75,-0.18],[1.77,0.03],[1.79,-0.36],[1.81,-0.53],[1.83,-0.13],
[1.85,-0.65],[1.87,-0.60],[1.89,0.20],[1.91,-0.40],[1.93,-0.10],[1.95,-0.30]
];
// densest band of PCB118 observations
const pcbShapleyCore = [
[-1.50,0.02],[-1.48,-0.20],[-1.46,-0.06],[-1.44,-0.25],[-1.42,-0.02],[-1.40,-0.15],[-1.38,0.05],[-1.36,-0.22],[-1.34,-0.08],[-1.32,0.00],
[-1.30,-0.03],[-1.28,-0.23],[-1.26,0.04],[-1.24,-0.12],[-1.22,-0.18],[-1.20,0.04],[-1.18,-0.18],[-1.16,-0.04],[-1.14,-0.23],[-1.12,0.00],
[-1.10,-0.11],[-1.08,0.09],[-1.06,-0.18],[-1.04,-0.04],[-1.02,0.04],[-1.00,0.03],[-0.98,-0.17],[-0.96,0.10],[-0.94,-0.06],[-0.92,-0.12],
[-0.90,0.12],[-0.88,-0.10],[-0.86,0.04],[-0.84,-0.15],[-0.82,0.08],[-0.80,-0.02],[-0.78,0.18],[-0.76,-0.09],[-0.74,0.05],[-0.72,0.13],
[-0.70,0.12],[-0.68,-0.08],[-0.66,0.19],[-0.64,0.03],[-0.62,-0.03],[-0.60,0.21],[-0.58,-0.01],[-0.56,0.13],[-0.54,-0.06],[-0.52,0.17],
[-0.50,0.07],[-0.48,0.27],[-0.46,0.00],[-0.44,0.14],[-0.42,0.22],[-0.40,0.21],[-0.38,0.01],[-0.36,0.28],[-0.34,0.12],[-0.32,0.06],
[-0.30,0.29],[-0.28,0.07],[-0.26,0.21],[-0.24,0.02],[-0.22,0.25],[-0.20,0.13],[-0.18,0.33],[-0.16,0.06],[-0.14,0.20],[-0.12,0.28],
[-0.10,0.24],[-0.08,0.04],[-0.06,0.31],[-0.04,0.15],[-0.02,0.09],[0.00,0.28],[0.02,0.06],[0.04,0.20],[0.06,0.01],[0.08,0.24],
[0.10,0.07],[0.12,0.27],[0.14,0.00],[0.16,0.14],[0.18,0.22],[0.20,0.12],[0.22,-0.08],[0.24,0.19],[0.26,0.03],[0.28,-0.03],
[0.30,0.12],[0.32,-0.10],[0.34,0.04],[0.36,-0.15],[0.38,0.08],[0.40,-0.12],[0.42,0.08],[0.44,-0.19],[0.46,-0.05],[0.48,0.03],
[0.50,-0.08],[0.52,-0.28],[0.54,-0.01],[0.56,-0.17],[0.58,-0.23],[0.60,-0.06],[0.62,-0.28],[0.64,-0.14],[0.66,-0.33],[0.68,-0.10],
[0.70,-0.25],[0.72,-0.05],[0.74,-0.32],[0.76,-0.18],[0.78,-0.10],[0.80,-0.14],[0.82,-0.34],[0.84,-0.07],[0.86,-0.23],[0.88,-0.29],
[0.90,-0.05],[0.92,-0.27],[0.94,-0.13],[0.96,-0.32],[0.98,-0.09],[1.00,-0.15]
];

// ---- Tick values ----
const xTicksShort = [-2, 0, 2, 4];
const xTicksLong  = [-4, -2, 0, 2, 4, 6];
const dbpTicks    = [63.5, 64, 64.5, 65, 65.5];
const sbpCuTicks  = [109.2, 109.4, 109.6, 109.8, 110, 110.2, 110.4];
const sbpCuShown  = [109.2, 109.6, 110, 110.4];
const sbpPcbTicks = [109.4, 109.6, 109.8, 110, 110.2, 110.4, 110.6];
const sbpPcbShown = [109.4, 109.8, 110.2, 110.6];
const tnShapTicks = [-1, -0.5, 0, 0.5, 1, 1.5, 2, 2.5];
const tnShapShown = [-1, 0, 0.5, 1, 1.5, 2, 2.5];
const cuShapTicks = [-2, -1, 0, 1];
const pcbShapTicks = [-1, 0, 1, 2, 3];

// ---- drawing ----
const svg = d3.select("#chart");
const SANS = "'Liberation Sans', Arial, Helvetica, sans-serif";
const SERIF = "'Liberation Serif', 'Times New Roman', serif";
const RED = "#DF536B";
const FRAME = "#5c5c5c";
const INK = "#1a1a1a";

function placeText(parent, str, x, y, o) {
  return parent.append("text")
    .attr("transform", `translate(${x},${y}) scale(${o.sx ?? 1},${o.sy ?? 1})` + (o.rot ? ` rotate(${o.rot})` : ""))
    .attr("text-anchor", "middle")
    .attr("dy", o.dy ?? "0.35em")
    .attr("font-family", o.family ?? SANS)
    .attr("font-size", o.size ?? 11)
    .attr("fill", o.fill ?? INK)
    .text(str);
}

function has(list, v) { return list.some(t => Math.abs(t - v) < 1e-9); }

function styleAxis(g, o) {
  g.select(".domain").remove();
  g.attr("font-family", SANS).attr("font-size", o.size);
  g.selectAll(".tick line").attr("stroke", FRAME);
  g.selectAll(".tick text")
    .attr("fill", INK).attr("x", null).attr("y", null)
    .attr("dy", "0.35em").attr("text-anchor", "middle")
    .attr("transform", o.vertical
      ? `translate(${-o.off},0) scale(${o.sx},${o.sy}) rotate(-90)`
      : `translate(0,${o.off}) scale(${o.sx},${o.sy})`);
}

function frame(g, b) {
  g.append("rect")
    .attr("x", b.left).attr("y", b.top)
    .attr("width", b.right - b.left).attr("height", b.bottom - b.top)
    .attr("fill", "none").attr("stroke", FRAME).attr("stroke-width", 1);
}

function drawPdp(p) {
  const b = p.box;
  const x = d3.scaleLinear().domain(p.xDomain).range([b.left, b.right]);
  const y = d3.scaleLinear().domain(p.yDomain).range([b.bottom, b.top]);
  const g = svg.append("g");
  const rows = p.xs.map((v, i) => ({ x: v, y: p.ys[i], se: p.se[i] }));

  // rug of observed exposure values
  g.append("g").selectAll("line").data(p.rug).join("line")
    .attr("x1", d => x(d)).attr("x2", d => x(d))
    .attr("y1", b.bottom).attr("y2", b.bottom - 6)
    .attr("stroke", "#000").attr("stroke-width", 0.9).attr("stroke-opacity", 0.85);

  // confidence band edges
  [1, -1].forEach(k => {
    g.append("path")
      .attr("d", d3.line().x(d => x(d.x)).y(d => y(d.y + k * d.se))(rows))
      .attr("fill", "none").attr("stroke", RED).attr("stroke-width", 1)
      .attr("stroke-dasharray", "1 1.6").attr("stroke-opacity", 0.75);
  });

  g.append("g").selectAll("circle").data(rows).join("circle")
    .attr("cx", d => x(d.x)).attr("cy", d => y(d.y)).attr("r", 2.3)
    .attr("fill", RED);

  g.append("path")
    .attr("d", d3.line().x(d => x(d.x)).y(d => y(d.y))(rows))
    .attr("fill", "none").attr("stroke", "#111").attr("stroke-width", 1.6)
    .attr("stroke-dasharray", "6 4");

  frame(g, b);

  const xa = g.append("g").attr("transform", `translate(0,${b.bottom})`)
    .call(d3.axisBottom(x).tickValues(p.xTicks).tickSize(7).tickFormat(t => String(t)));
  styleAxis(xa, { size: 11, off: 21, sx: 1.0, sy: 0.85 });

  const ya = g.append("g").attr("transform", `translate(${b.left},0)`)
    .call(d3.axisLeft(y).tickValues(p.yTicks).tickSize(6)
      .tickFormat(t => has(p.yShown, t) ? t.toFixed(1) : ""));
  styleAxis(ya, { size: 11, off: p.yLabOff, sx: 1.05, sy: 0.85, vertical: true });

  placeText(svg, "ŷ", p.yTitle[0], p.yTitle[1], { size: 12, rot: -90, sx: 1, sy: 0.85 });
  placeText(svg, p.title, p.titlePos[0], p.titlePos[1], { family: SERIF, size: 21, dy: 0, fill: "#000" });
}

function drawShapley(p) {
  const b = p.box;
  const x = d3.scaleLinear().domain(p.xDomain).range([b.left, b.right]);
  const y = d3.scaleLinear().domain(p.yDomain).range([b.bottom, b.top]);
  const g = svg.append("g");

  g.append("g").selectAll("circle").data(p.points).join("circle")
    .attr("cx", d => x(d[0])).attr("cy", d => y(d[1])).attr("r", 2.7)
    .attr("fill", "none").attr("stroke", "#000").attr("stroke-width", 1);

  frame(g, b);

  const xa = g.append("g").attr("transform", `translate(0,${b.bottom})`)
    .call(d3.axisBottom(x).tickValues(p.xTicks).tickSize(7).tickFormat(t => String(t)));
  styleAxis(xa, { size: 11, off: p.xLabOff, sx: 1.1, sy: 0.9 });

  const ya = g.append("g").attr("transform", `translate(${b.left},0)`)
    .call(d3.axisLeft(y).tickValues(p.yTicks).tickSize(6)
      .tickFormat(t => has(p.yShown, t) ? p.fmt(t) : ""));
  styleAxis(ya, { size: 11, off: p.yLabOff, sx: 1.1, sy: 0.9, vertical: true });

  placeText(svg, "Average Shapley value", p.yTitle[0], p.yTitle[1], { size: 11, rot: -90, sx: 1.05, sy: 1 });
  placeText(svg, p.name, p.namePos[0], p.namePos[1], { family: SERIF, size: 23, dy: 0, fill: "#000" });
}

const tnAll = tnShapley.concat(tnShapleyCore);
const cuAll = cuShapley.concat(cuShapleyCore);
const pcbAll = pcbShapley.concat(pcbShapleyCore);

drawPdp({
  title: "DBP", titlePos: [234, 27],
  box: { left: 60, right: 410, top: 55, bottom: 237 },
  xDomain: [-3.94, 4.29], yDomain: [63.403, 65.688],
  xs: dbpTnX, ys: dbpTnY, se: dbpTnSE, rug: tnAll.map(d => d[0]),
  xTicks: xTicksShort, yTicks: dbpTicks, yShown: dbpTicks,
  yLabOff: 20.5, yTitle: [16, 147]
});
drawPdp({
  title: "SBP", titlePos: [634, 27],
  box: { left: 477.3, right: 827.3, top: 55, bottom: 237 },
  xDomain: [-3.146, 5.07], yDomain: [109.042, 110.58],
  xs: sbpCuX, ys: sbpCuY, se: sbpCuSE, rug: cuAll.map(d => d[0]),
  xTicks: xTicksShort, yTicks: sbpCuTicks, yShown: sbpCuShown,
  yLabOff: 21, yTitle: [427.5, 146]
});
drawPdp({
  title: "SBP", titlePos: [1071, 27],
  box: { left: 902.3, right: 1253.4, top: 55, bottom: 237 },
  xDomain: [-4.38, 6.34], yDomain: [109.286, 110.712],
  xs: sbpPcbX, ys: sbpPcbY, se: sbpPcbSE, rug: pcbAll.map(d => d[0]),
  xTicks: xTicksLong, yTicks: sbpPcbTicks, yShown: sbpPcbShown,
  yLabOff: 18.5, yTitle: [850, 146]
});

drawShapley({
  name: "TN", namePos: [229, 519],
  box: { left: 65, right: 415, top: 278.5, bottom: 461 },
  xDomain: [-4.0, 4.316], yDomain: [-1.014, 2.636],
  points: tnAll, xTicks: xTicksShort,
  yTicks: tnShapTicks, yShown: tnShapShown, fmt: t => t.toFixed(1),
  xLabOff: 21.3, yLabOff: 20.5, yTitle: [20, 370]
});
drawShapley({
  name: "Cu", namePos: [634, 518],
  box: { left: 477.3, right: 827.3, top: 279.3, bottom: 462 },
  xDomain: [-3.14, 5.08], yDomain: [-2.94, 1.662],
  points: cuAll, xTicks: xTicksShort,
  yTicks: cuShapTicks, yShown: cuShapTicks, fmt: t => String(t),
  xLabOff: 20.3, yLabOff: 14, yTitle: [432, 370.5]
});
drawShapley({
  name: "PCB118", namePos: [1076, 519],
  box: { left: 902.3, right: 1252.4, top: 281, bottom: 462 },
  xDomain: [-4.4, 6.34], yDomain: [-1.46, 2.998],
  points: pcbAll, xTicks: xTicksLong,
  yTicks: pcbShapTicks, yShown: pcbShapTicks, fmt: t => String(t),
  xLabOff: 20.3, yLabOff: 23, yTitle: [857, 370.5]
});
</script>
</body></html>
